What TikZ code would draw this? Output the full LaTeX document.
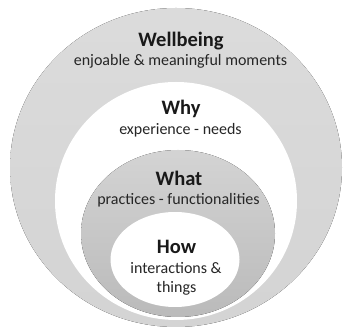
\documentclass[tikz,border=0pt]{standalone}
\usepackage{fontspec}
\setmainfont{Carlito}
\usetikzlibrary{shapes.geometric}
\begin{document}
\begin{tikzpicture}[x=1pt,y=1pt,
  title/.style={font=\fontsize{20.5}{23}\selectfont\bfseries, inner sep=0pt, anchor=base, text=black!90},
  sub/.style={font=\fontsize{16}{18}\selectfont, inner sep=0pt, anchor=base, text=black!85},
  ring/.style={draw=none}]
\useasboundingbox (0,0) rectangle (343,332);
% nested layers, all resting on the bottom
\fill[ring, top color=black!14, bottom color=black!17] (176,164.5) ellipse [x radius=166, y radius=159.5];
\fill[ring, white] (176,131) ellipse [x radius=121, y radius=119];
\fill[ring, top color=black!17, bottom color=black!27] (178,98.5) ellipse [x radius=97, y radius=83.5];
\fill[ring, white] (175,72.5) ellipse [x radius=64.5, y radius=47.5];
% labels
\node[title] (wellbeing) at (181,285) {Wellbeing};
\node[sub] (wellsub) at (180.5,266) {enjoable \& meaningful moments};
\node[title] (why) at (181,217) {Why};
\node[sub] (whysub) at (180.5,197) {experience - needs};
\node[title] (what) at (179,146.5) {What};
\node[sub] (whatsub) at (178.5,127) {practices - functionalities};
\node[title] (how) at (176.5,78) {How};
\node[sub] (howsub1) at (176,58) {interactions \&};
\node[sub] (howsub2) at (176.5,39.5) {things};
\end{tikzpicture}
\end{document}
